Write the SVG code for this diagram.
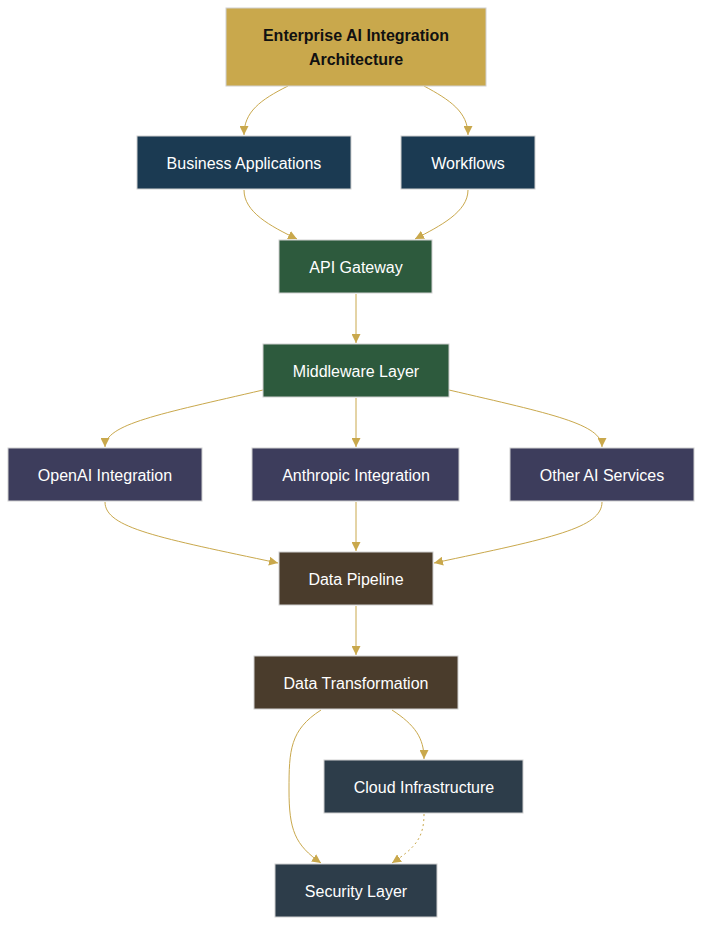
<svg xmlns="http://www.w3.org/2000/svg" width="702" height="926" viewBox="0 0 702 926">
<style>
.n rect{stroke:#d0d0d0;stroke-width:1}
.n text{font-family:"Liberation Sans",Arial,sans-serif;font-size:16px;fill:#ffffff;text-anchor:middle;dominant-baseline:central}
.c path{fill:none;stroke:#c9a84c;stroke-width:1}
</style>
<defs><marker id="a" viewBox="0 0 10 10" refX="10" refY="5" markerWidth="9" markerHeight="9" markerUnits="userSpaceOnUse" orient="auto"><path d="M0,0L10,5L0,10z" fill="#c9a84c"/></marker></defs>
<rect width="702" height="926" fill="#fff"/>
<g class="c">
<path d="M288,86C260,100 244,112 244,135" marker-end="url(#a)"/>
<path d="M424,86C450,100 468,112 468,135" marker-end="url(#a)"/>
<path d="M244,190C244,212 270,226 297,239" marker-end="url(#a)"/>
<path d="M468,190C468,212 440,226 415,239" marker-end="url(#a)"/>
<path d="M356,294V343" marker-end="url(#a)"/>
<path d="M263,390C160,414 105,424 105,447" marker-end="url(#a)"/>
<path d="M356,398V447" marker-end="url(#a)"/>
<path d="M449,390C552,414 602,424 602,447" marker-end="url(#a)"/>
<path d="M105,502C105,528 160,538 278,563" marker-end="url(#a)"/>
<path d="M356,502V551" marker-end="url(#a)"/>
<path d="M602,502C602,528 552,538 434,563" marker-end="url(#a)"/>
<path d="M356,606V655" marker-end="url(#a)"/>
<path d="M392,710C415,725 424,738 424,759" marker-end="url(#a)"/>
<path d="M321,710C290,730 289,750 289,790C289,830 295,845 321,863" marker-end="url(#a)"/>
<path d="M424,814C424,838 415,848 392,863" stroke-dasharray="2,3" marker-end="url(#a)"/>
</g>
<g id="title" class="n"><rect x="226" y="8" width="260" height="78" fill="#c9a84c"/><text x="356" y="35" style="fill:#111;font-weight:bold">Enterprise AI Integration</text><text x="356" y="59" style="fill:#111;font-weight:bold">Architecture</text></g>
<g id="business" class="n"><rect x="137" y="136" width="214" height="53" fill="#1b3a52"/><text x="244" y="163">Business Applications</text></g>
<g id="workflows" class="n"><rect x="401" y="136" width="134" height="53" fill="#1b3a52"/><text x="468" y="163">Workflows</text></g>
<g id="gateway" class="n"><rect x="279" y="240" width="153" height="53" fill="#2d5a3d"/><text x="356" y="267">API Gateway</text></g>
<g id="middleware" class="n"><rect x="263" y="344" width="186" height="53" fill="#2d5a3d"/><text x="356" y="371">Middleware Layer</text></g>
<g id="openai" class="n"><rect x="8" y="448" width="194" height="53" fill="#3d3d5c"/><text x="105" y="475">OpenAI Integration</text></g>
<g id="anthropic" class="n"><rect x="252" y="448" width="207" height="53" fill="#3d3d5c"/><text x="356" y="475">Anthropic Integration</text></g>
<g id="other" class="n"><rect x="510" y="448" width="184" height="53" fill="#3d3d5c"/><text x="602" y="475">Other AI Services</text></g>
<g id="pipeline" class="n"><rect x="279" y="552" width="154" height="53" fill="#4a3c2c"/><text x="356" y="579">Data Pipeline</text></g>
<g id="transform" class="n"><rect x="254" y="656" width="204" height="53" fill="#4a3c2c"/><text x="356" y="683">Data Transformation</text></g>
<g id="cloud" class="n"><rect x="324" y="760" width="199" height="53" fill="#2d3d4a"/><text x="424" y="787">Cloud Infrastructure</text></g>
<g id="security" class="n"><rect x="275" y="864" width="162" height="53" fill="#2d3d4a"/><text x="356" y="891">Security Layer</text></g>
</svg>
